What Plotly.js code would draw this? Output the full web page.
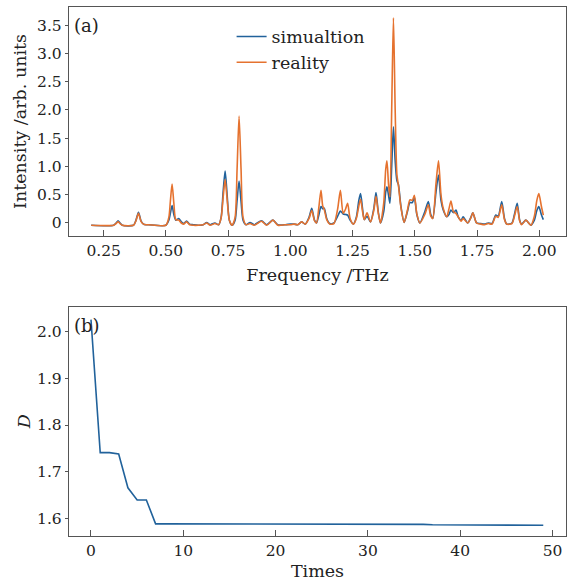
<!DOCTYPE html>
<html>
<head>
<meta charset="utf-8">
<script src="https://cdn.plot.ly/plotly-3.0.1.min.js"></script>
<style>html,body{margin:0;padding:0;background:#fff;}#chart{width:579px;height:583px;}</style>
</head>
<body>
<div id="chart"></div>
<script>
// Panel (a): spectrum
const freq = [0.200,0.290,0.300,0.308,0.316,0.325,0.370,0.380,0.390,0.400,0.410,0.420,0.430,0.500,0.512,0.518,0.525,0.532,0.540,0.552,0.562,0.572,0.583,0.595,0.610,0.630,0.650,0.664,0.678,0.697,0.712,0.722,0.730,0.738,0.746,0.755,0.766,0.778,0.786,0.794,0.802,0.810,0.822,0.838,0.855,0.884,0.905,0.930,0.950,0.980,1.000,1.015,1.030,1.045,1.060,1.075,1.086,1.097,1.105,1.115,1.123,1.130,1.136,1.146,1.158,1.175,1.190,1.201,1.212,1.222,1.230,1.240,1.253,1.265,1.275,1.282,1.290,1.297,1.308,1.322,1.335,1.344,1.353,1.362,1.375,1.383,1.388,1.394,1.400,1.407,1.414,1.421,1.428,1.434,1.444,1.457,1.470,1.480,1.490,1.498,1.508,1.520,1.540,1.554,1.564,1.572,1.585,1.595,1.605,1.614,1.628,1.637,1.645,1.655,1.665,1.674,1.686,1.694,1.712,1.725,1.733,1.748,1.765,1.780,1.795,1.810,1.825,1.835,1.849,1.860,1.869,1.890,1.900,1.911,1.921,1.929,1.946,1.966,1.980,1.990,1.998,2.008,2.016];
const simulation = [-0.04,-0.04,0.00,0.04,0.00,-0.04,-0.04,0.05,0.19,0.04,-0.02,-0.03,-0.03,-0.04,0.05,0.17,0.31,0.15,0.05,0.08,0.02,-0.01,0.035,-0.02,-0.03,-0.04,-0.03,0.01,-0.03,0.00,-0.03,0.10,0.55,0.92,0.50,0.05,-0.04,0.05,0.40,0.74,0.38,0.05,-0.03,0.01,-0.03,0.04,-0.03,0.05,-0.03,-0.03,-0.02,-0.02,-0.03,0.02,-0.02,0.10,0.26,0.05,0.00,0.15,0.29,0.25,0.26,0.08,-0.01,0.00,0.12,0.21,0.16,0.15,0.14,0.05,-0.02,0.10,0.40,0.52,0.25,0.06,0.12,0.02,0.25,0.54,0.20,0.00,0.20,0.55,0.64,0.50,0.35,1.00,1.70,1.10,0.75,0.68,0.30,0.01,0.20,0.36,0.36,0.46,0.15,0.00,0.20,0.38,0.15,0.08,0.55,0.85,0.40,0.23,0.11,0.15,0.23,0.18,0.23,0.11,0.05,0.11,0.00,0.10,0.18,0.00,-0.01,-0.02,0.00,-0.01,0.14,0.12,0.38,0.08,-0.02,0.00,0.15,0.35,0.05,-0.02,0.05,-0.04,0.05,0.22,0.29,0.15,0.06];
const reality = [-0.04,-0.04,-0.01,0.02,-0.01,-0.04,-0.04,0.04,0.17,0.03,-0.02,-0.03,-0.03,-0.04,0.10,0.38,0.69,0.35,0.06,0.05,0.00,-0.02,0.02,-0.03,-0.04,-0.04,-0.03,0.00,-0.04,-0.01,-0.03,0.09,0.45,0.77,0.42,0.05,-0.04,0.10,0.95,1.89,0.95,0.10,-0.03,-0.01,-0.04,0.03,-0.04,0.05,-0.04,-0.03,-0.03,-0.02,-0.03,0.02,-0.02,0.08,0.22,0.04,0.00,0.30,0.58,0.30,0.24,0.06,-0.02,-0.01,0.25,0.58,0.17,0.25,0.35,0.08,-0.02,0.08,0.30,0.42,0.20,0.06,0.18,0.02,0.22,0.47,0.18,0.00,0.35,0.95,1.10,0.70,0.46,2.00,3.63,2.00,0.85,0.67,0.28,0.01,0.22,0.41,0.40,0.49,0.16,0.00,0.15,0.32,0.12,0.08,0.70,1.10,0.50,0.26,0.11,0.25,0.39,0.20,0.17,0.11,0.03,0.08,0.00,0.09,0.18,0.00,-0.02,-0.03,-0.01,-0.02,0.12,0.10,0.32,0.06,-0.02,-0.01,0.12,0.29,0.04,-0.03,0.05,-0.04,0.12,0.40,0.52,0.30,0.14];

// Panel (b): D vs iteration
const times = [0,1,2,3,4,5,6,7,8,9,10,11,12,13,14,15,16,17,18,19,20,21,22,23,24,25,26,27,28,29,30,31,32,33,34,35,36,37,38,39,40,41,42,43,44,45,46,47,48,49];
const dValues = [2.025,1.741,1.741,1.738,1.666,1.640,1.640,1.589,1.589,1.589,1.589,1.589,1.589,1.589,1.589,1.589,1.589,1.589,1.588,1.588,1.588,1.588,1.588,1.588,1.588,1.588,1.588,1.588,1.588,1.588,1.588,1.588,1.588,1.588,1.588,1.588,1.588,1.587,1.587,1.587,1.587,1.587,1.587,1.586,1.586,1.586,1.586,1.586,1.586,1.586];

const topXTicks = [0.25,0.50,0.75,1.00,1.25,1.50,1.75,2.00];
const topYTicks = [0,0.5,1.0,1.5,2.0,2.5,3.0,3.5];
const topYText = ['0','0.5','1.0','1.5','2.0','2.5','3.0','3.5'];
const botXTicks = [0,10,20,30,40,50];
const botYTicks = [1.6,1.7,1.8,1.9,2.0];

const BLUE = '#21629b';
const ORANGE = '#e5722f';
const FONT = 'DejaVu Serif, Liberation Serif, serif';
const AX = '#555555';
const TXT = '#222222';

const traces = [
  {x: freq, y: simulation, type: 'scatter', mode: 'lines', name: 'simualtion', line: {color: BLUE, width: 1.6, shape: 'spline', smoothing: 0.7}, xaxis: 'x', yaxis: 'y'},
  {x: freq, y: reality, type: 'scatter', mode: 'lines', name: 'reality', line: {color: ORANGE, width: 1.6, shape: 'spline', smoothing: 0.7}, xaxis: 'x', yaxis: 'y'},
  {x: times, y: dValues, type: 'scatter', mode: 'lines', name: 'D', showlegend: false, line: {color: BLUE, width: 1.6}, xaxis: 'x2', yaxis: 'y2'}
];

const common = {showline: true, mirror: true, linecolor: AX, linewidth: 1.2, showgrid: false, zeroline: false,
  tickcolor: AX, tickfont: {family: FONT, size: 15.5, color: TXT}};

const layout = {
  width: 579, height: 583,
  margin: {l: 0, r: 0, t: 0, b: 0},
  paper_bgcolor: '#fff', plot_bgcolor: '#fff',
  font: {family: FONT, color: TXT},
  showlegend: true,
  legend: {x: 0.40, y: 0.968, xanchor: 'left', yanchor: 'top', bgcolor: 'rgba(0,0,0,0)',
    font: {family: FONT, size: 17.5, color: TXT}, itemwidth: 30, tracegroupgap: 0},
  xaxis: Object.assign({}, common, {domain: [0.1192, 0.9775], range: [0.111, 2.107], tickvals: topXTicks,
    tickformat: '.2f', ticks: 'inside', ticklen: 6, anchor: 'y',
    title: {text: 'Frequency /THz', font: {family: FONT, size: 17.5, color: TXT}, standoff: 10}}),
  yaxis: Object.assign({}, common, {domain: [0.5952, 0.988], range: [-0.23, 3.82], tickvals: topYTicks, ticktext: topYText,
    ticks: 'outside', ticklen: 3, anchor: 'x',
    title: {text: 'Intensity /arb. units', font: {family: FONT, size: 17.5, color: TXT}, standoff: 6}}),
  xaxis2: Object.assign({}, common, {domain: [0.1192, 0.9775], range: [-2.38, 51.46], tickvals: botXTicks,
    ticks: 'inside', ticklen: 6, anchor: 'y2',
    title: {text: 'Times', font: {family: FONT, size: 17.5, color: TXT}, standoff: 6}}),
  yaxis2: Object.assign({}, common, {domain: [0.0811, 0.4739], range: [1.5637, 2.0525], tickvals: botYTicks,
    tickformat: '.1f', ticks: 'outside', ticklen: 3, anchor: 'x2',
    title: {text: '<i>D</i>', font: {family: FONT, size: 17.5, color: TXT}, standoff: 2}}),
  annotations: [
    {text: '(a)', xref: 'x domain', yref: 'y domain', x: 0.005, y: 0.921, xanchor: 'left', yanchor: 'middle', showarrow: false,
      font: {family: FONT, size: 18, color: TXT}},
    {text: '(b)', xref: 'x2 domain', yref: 'y2 domain', x: 0.005, y: 0.92, xanchor: 'left', yanchor: 'middle', showarrow: false,
      font: {family: FONT, size: 18, color: TXT}}
  ]
};

Plotly.newPlot('chart', traces, layout, {displayModeBar: false, staticPlot: true});
</script>
</body>
</html>
